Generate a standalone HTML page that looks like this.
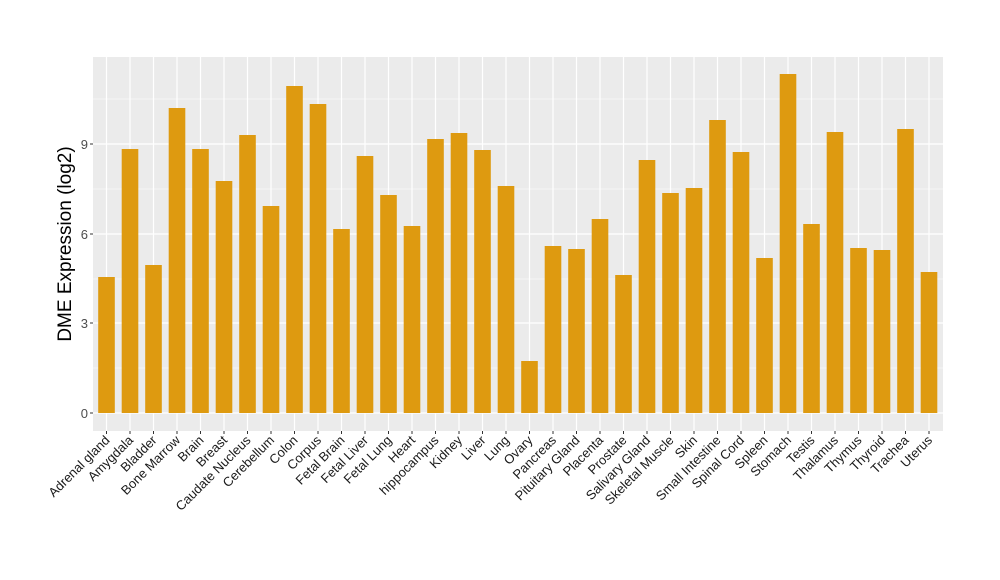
<!DOCTYPE html>
<html><head><meta charset="utf-8"><style>body{margin:0;background:#fff}svg{display:block}</style></head><body>
<svg width="1000" height="580" xmlns="http://www.w3.org/2000/svg" font-family="Liberation Sans, sans-serif">
<rect width="1000" height="580" fill="#fff"/>
<rect x="93" y="57" width="850" height="374" fill="#ebebeb"/>
<g stroke="#fff" stroke-width="0.6">
<line x1="93" x2="943" y1="368" y2="368"/><line x1="93" x2="943" y1="279" y2="279"/><line x1="93" x2="943" y1="189" y2="189"/><line x1="93" x2="943" y1="99" y2="99"/>
</g>
<g stroke="#fff" stroke-width="1.2">
<line x1="93" x2="943" y1="413" y2="413"/><line x1="93" x2="943" y1="323" y2="323"/><line x1="93" x2="943" y1="234" y2="234"/><line x1="93" x2="943" y1="144" y2="144"/>
</g>
<g id="vg" stroke="#fff" stroke-width="1.2"></g>
<g id="bars" fill="#de9a10"></g>
<g font-size="13" fill="#4d4d4d" text-anchor="end">
<text x="88" y="418">0</text><text x="88" y="328">3</text><text x="88" y="239">6</text><text x="88" y="149">9</text>
</g>
<g stroke="#333"><line x1="90" x2="93" y1="413" y2="413"/><line x1="90" x2="93" y1="323" y2="323"/><line x1="90" x2="93" y1="234" y2="234"/><line x1="90" x2="93" y1="144" y2="144"/></g>
<g id="xt" stroke="#333"></g>
<g id="xl" font-size="13" fill="#1a1a1a" text-anchor="end"></g>
<text transform="translate(71,244) rotate(-90)" font-size="19" text-anchor="middle" fill="#000">DME Expression (log2)</text>
</svg>
<script>
var names=["Adrenal gland","Amygdala","Bladder","Bone Marrow","Brain","Breast","Caudate Nucleus","Cerebellum","Colon","Corpus","Fetal Brain","Fetal Liver","Fetal Lung","Heart","hippocampus","Kidney","Liver","Lung","Ovary","Pancreas","Pituitary Gland","Placenta","Prostate","Salivary Gland","Skeletal Muscle","Skin","Small Intestine","Spinal Cord","Spleen","Stomach","Testis","Thalamus","Thymus","Thyroid","Trachea","Uterus"];
var tops=[277,149,265,108,149,181,135,206,86,104,229,156,195,226,139,133,150,186,361,246,249,219,275,160,193,188,120,152,258,74,224,132,248,250,129,272];
var ns="http://www.w3.org/2000/svg",b=document.getElementById("bars"),t=document.getElementById("xt"),l=document.getElementById("xl"),vg=document.getElementById("vg");
for(var i=0;i<36;i++){var cx=106.5+23.5*i;
var g=document.createElementNS(ns,"line");g.setAttribute("x1",cx);g.setAttribute("x2",cx);g.setAttribute("y1",57);g.setAttribute("y2",431);vg.appendChild(g);
var r=document.createElementNS(ns,"rect");r.setAttribute("x",cx-8.3);r.setAttribute("width",16.6);r.setAttribute("y",tops[i]);r.setAttribute("height",413-tops[i]);b.appendChild(r);
var k=document.createElementNS(ns,"line");k.setAttribute("x1",cx);k.setAttribute("x2",cx);k.setAttribute("y1",431);k.setAttribute("y2",434);t.appendChild(k);
var s=document.createElementNS(ns,"text");s.setAttribute("transform","translate("+(cx+4)+",441) rotate(-45)");s.textContent=names[i];l.appendChild(s);}
</script>
</body></html>
